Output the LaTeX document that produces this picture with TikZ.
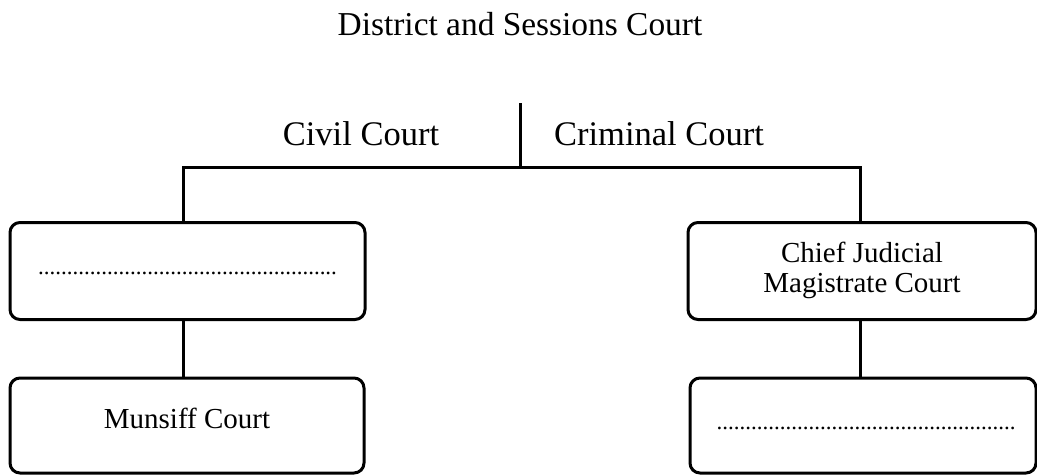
\documentclass[tikz,border=0pt]{standalone}
\usepackage{fontspec}
\setmainfont{Liberation Serif}
\begin{document}
\begin{tikzpicture}[x=1pt,y=-1pt,
  line width=3pt,
  courtbox/.style={draw, rounded corners=10pt, minimum width=#1, minimum height=97pt, inner sep=0pt},
  boxtext/.style={font=\fontsize{29}{30}\selectfont, inner sep=0pt, align=center},
  dotstext/.style={font=\fontsize{23}{24}\selectfont, inner sep=0pt, anchor=base},
  headtext/.style={font=\fontsize{34.5}{40}\selectfont, inner sep=0pt, anchor=base},
]
\useasboundingbox (0,0) rectangle (1037,475);
\fill[white] (0,0) rectangle (1037,475);

% title
\node[font=\fontsize{33.4}{40}\selectfont, inner sep=0pt, anchor=base] (title) at (520,35) {District and Sessions Court};

% branch labels
\node[headtext] (civil) at (361,145) {Civil Court};
\node[headtext] (criminal) at (659,145) {Criminal Court};

% boxes
\node[courtbox=355pt] (ltop) at (187.5,271) {};
\node[courtbox=354pt, minimum height=95pt] (lbot) at (187,425.5) {};
\node[courtbox=348pt] (rtop) at (862,271) {};
\node[courtbox=346pt, minimum height=95pt] (rbot) at (863,425.5) {};

% box texts
\node[dotstext] (ldots) at (187.5,274) {....................................................};
\node[boxtext, anchor=base] (munsiff) at (187,428) {Munsiff Court};
\node[boxtext] (cjm) at (862,270) {Chief Judicial\\Magistrate Court};
\node[dotstext] (rdots) at (866,429) {....................................................};

% connectors
\coordinate (top) at (520,103);
\coordinate (jm) at (520,167);
\coordinate (jl) at (183,167);
\coordinate (jr) at (860,167);

\draw (top) -- (jm);
\draw[line join=miter] (ltop.north -| jl) -- (jl) -- (jr) -- (rtop.north -| jr);
\draw (ltop.south -| jl) -- (lbot.north -| jl);
\draw (rtop.south -| jr) -- (rbot.north -| jr);
\end{tikzpicture}
\end{document}
